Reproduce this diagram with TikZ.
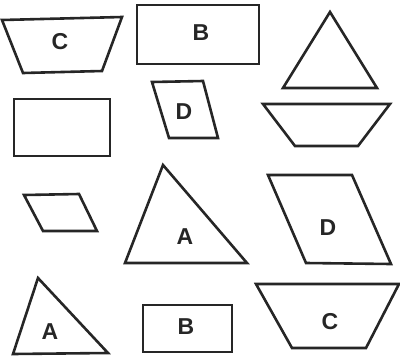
\documentclass[tikz,border=0pt]{standalone}
\usepackage{fontspec}
\setmainfont{Liberation Sans}
\begin{document}
\begin{tikzpicture}[x=1pt,y=-1pt,
  shp/.style={draw=black!85,line width=2.6pt,line join=miter},
  lbl/.style={font=\bfseries\fontsize{23}{23}\selectfont,text=black!85,inner sep=0pt}]
\useasboundingbox (0,0) rectangle (400,360);
% row 1
\draw[shp] (2,20) -- (122,17) -- (102,71) -- (23,73) -- cycle;
\node[lbl] (c1) at (60,42) {C};
\draw[shp] (137,5) rectangle (259,64);
\node[lbl] (b1) at (201,33) {B};
\draw[shp] (330,12) -- (377,88) -- (283,88) -- cycle;
% row 2
\draw[shp] (14,99) rectangle (110,156);
\draw[shp] (152,82) -- (203,81) -- (218,138) -- (169,138) -- cycle;
\node[lbl] (d1) at (184,112) {D};
\draw[shp] (263,104) -- (390,104) -- (358,146) -- (295,146) -- cycle;
% row 3
\draw[shp] (24,195) -- (79,194) -- (97,231) -- (43,231) -- cycle;
\draw[shp] (163,165) -- (247,263) -- (125,263) -- cycle;
\node[lbl] (a1) at (185,237) {A};
\draw[shp] (268,175) -- (352,175) -- (391,264) -- (306,263) -- cycle;
\node[lbl] (d2) at (328,228) {D};
% row 4
\draw[shp] (38,278) -- (108,353) -- (13,354) -- cycle;
\node[lbl] (a2) at (50,332) {A};
\draw[shp] (143,305) rectangle (232,352);
\node[lbl] (b2) at (186,327) {B};
\draw[shp] (256,284) -- (399,284) -- (366,348) -- (292,348) -- cycle;
\node[lbl] (c2) at (330,322) {C};
\end{tikzpicture}
\end{document}
